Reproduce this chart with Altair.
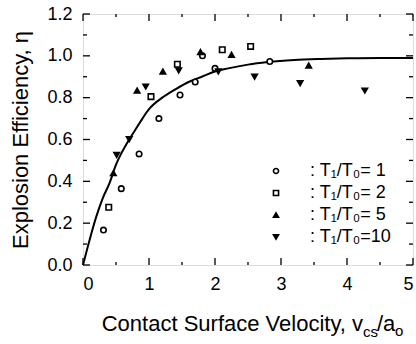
import altair as alt
import pandas as pd

FONT = "Liberation Sans"
W, H = 330, 251

# ---- data ----
t1_x = [0.31, 0.58, 0.85, 1.15, 1.47, 1.70, 1.81, 2.00, 2.83]
t1_y = [0.167, 0.365, 0.531, 0.700, 0.813, 0.875, 1.000, 0.940, 0.973]
t2_x = [0.39, 1.03, 1.43, 2.11, 2.54]
t2_y = [0.276, 0.805, 0.960, 1.029, 1.045]
t5_x = [0.46, 0.82, 1.21, 1.78, 2.25, 3.42]
t5_y = [0.439, 0.834, 0.925, 1.018, 1.005, 0.954]
t10_x = [0.51, 0.70, 0.95, 1.45, 2.05, 2.60, 3.29, 4.27]
t10_y = [0.526, 0.601, 0.853, 0.930, 0.925, 0.900, 0.869, 0.834]

curve_x = [0, 0.1, 0.2, 0.3, 0.4, 0.5, 0.6, 0.7, 0.8, 0.9, 1.0, 1.2, 1.4,
           1.6, 1.8, 2.0, 2.2, 2.5, 2.8, 3.2, 3.6, 4.0, 4.5, 5.0]
curve_y = [0.0, 0.12, 0.23, 0.32, 0.39, 0.48, 0.545, 0.60, 0.65, 0.70, 0.745,
           0.80, 0.84, 0.875, 0.90, 0.925, 0.94, 0.958, 0.97, 0.98, 0.985,
           0.988, 0.99, 0.99]

labels = [": T\u2081/T\u2080= 1", ": T\u2081/T\u2080= 2",
          ": T\u2081/T\u2080= 5", ": T\u2081/T\u2080=10"]
shapes = ["circle", "square", "triangle-up", "triangle-down"]
fills = ["white", "white", "black", "black"]
strokes = ["black", "black", "black", "black"]

x_major = [0, 1, 2, 3, 4, 5]
x_minor = [0.5, 1.5, 2.5, 3.5, 4.5]
y_major = [0.0, 0.2, 0.4, 0.6, 0.8, 1.0, 1.2]
y_minor = [0.1, 0.3, 0.5, 0.7, 0.9, 1.1]

title_parts = ["Contact Surface Velocity, v", "cs", "/a", "o"]

# ---- tables ----
rows = []
for lab, xs, ys in zip(labels, [t1_x, t2_x, t5_x, t10_x], [t1_y, t2_y, t5_y, t10_y]):
    for a, b in zip(xs, ys):
        rows.append({"v": a, "eta": b, "series": lab})
pts = pd.DataFrame(rows)
curve = pd.DataFrame({"v": curve_x, "eta": curve_y})

xsc = alt.Scale(domain=[0, 5], nice=False, zero=False)
ysc = alt.Scale(domain=[0, 1.2], nice=False, zero=False)

line = alt.Chart(curve).mark_line(color="black", strokeWidth=2, interpolate="monotone").encode(
    x=alt.X("v:Q", scale=xsc, axis=alt.Axis(
        values=x_major, format="d", ticks=False, domain=False, grid=False,
        labelFontSize=18, labelPadding=10, labelFont=FONT, labelColor="black",
        title=None)),
    y=alt.Y("eta:Q", scale=ysc, axis=alt.Axis(
        values=y_major, format=".1f", ticks=False, domain=False, grid=False,
        labelFontSize=18, labelPadding=11, labelFont=FONT, labelColor="black",
        title="Explosion Efficiency, \u03b7", titleFont=FONT, titleFontSize=22,
        titleFontWeight="normal", titleColor="black", titlePadding=14)),
)

leg = alt.Legend(title=None, orient="none", legendX=184, legendY=148,
                 labelFont=FONT, labelFontSize=18, labelColor="black",
                 symbolSize=26, rowPadding=4, labelOffset=25, padding=0,
                 symbolStrokeWidth=1.6)

points = alt.Chart(pts).mark_point(filled=False, strokeWidth=1.6,
                                   size=30, opacity=1).encode(
    x=alt.X("v:Q", scale=xsc),
    y=alt.Y("eta:Q", scale=ysc),
    shape=alt.Shape("series:N", scale=alt.Scale(domain=labels, range=shapes), legend=leg),
    fill=alt.Fill("series:N", scale=alt.Scale(domain=labels, range=fills), legend=leg),
    stroke=alt.Stroke("series:N", scale=alt.Scale(domain=labels, range=strokes), legend=leg),
)

def tick_layer(vals, axis, side, length):
    df = pd.DataFrame({"t": vals})
    base = alt.Chart(df).mark_rule(color="black", strokeWidth=1.3)
    if axis == "x":
        if side == "bottom":
            return base.encode(x=alt.X("t:Q", scale=xsc), y=alt.value(H), y2=alt.value(H - length))
        return base.encode(x=alt.X("t:Q", scale=xsc), y=alt.value(0), y2=alt.value(length))
    if side == "left":
        return base.encode(y=alt.Y("t:Q", scale=ysc), x=alt.value(0), x2=alt.value(length))
    return base.encode(y=alt.Y("t:Q", scale=ysc), x=alt.value(W), x2=alt.value(W - length))

ticks = []
for side in ["bottom", "top"]:
    ticks.append(tick_layer(x_major, "x", side, 7))
    ticks.append(tick_layer(x_minor, "x", side, 3))
for side in ["left", "right"]:
    ticks.append(tick_layer(y_major, "y", side, 7))
    ticks.append(tick_layer(y_minor, "y", side, 4))

# x-axis title with subscripts, built from pieces
tdf = pd.DataFrame({"txt": title_parts})
X0 = 280
main_t = alt.Chart(tdf.iloc[[0]]).mark_text(
    font=FONT, fontSize=22, align="right", baseline="alphabetic", color="black"
).encode(text="txt:N", x=alt.value(X0), y=alt.value(H + 66))
sub1 = alt.Chart(tdf.iloc[[1]]).mark_text(
    font=FONT, fontSize=15, align="left", baseline="alphabetic", color="black"
).encode(text="txt:N", x=alt.value(X0), y=alt.value(H + 72))
mid = alt.Chart(tdf.iloc[[2]]).mark_text(
    font=FONT, fontSize=22, align="left", baseline="alphabetic", color="black"
).encode(text="txt:N", x=alt.value(X0 + 14), y=alt.value(H + 66))
sub2 = alt.Chart(tdf.iloc[[3]]).mark_text(
    font=FONT, fontSize=15, align="left", baseline="alphabetic", color="black"
).encode(text="txt:N", x=alt.value(X0 + 32), y=alt.value(H + 71))

chart = alt.layer(line, points, *ticks, main_t, sub1, mid, sub2).properties(
    width=W, height=H,
    autosize=alt.AutoSizeParams(type="none"),
    padding={"left": 83, "top": 14, "right": 3, "bottom": 79},
).configure_view(stroke="black", strokeWidth=1.6).configure(background="white")

chart.save("out.html", embed_options={"renderer": "svg", "actions": False})
